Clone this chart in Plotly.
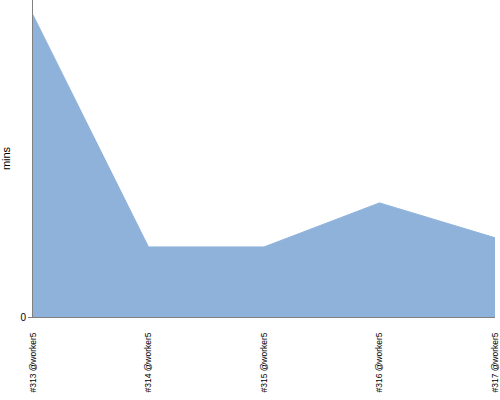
import plotly.graph_objects as go

builds = ["#313 @worker5", "#314 @worker5", "#315 @worker5", "#316 @worker5", "#317 @worker5"]
mins = [9.53, 2.21, 2.21, 3.6, 2.5]

fig = go.Figure()
fig.add_trace(go.Scatter(
    x=builds, y=mins, mode="lines", fill="tozeroy",
    fillcolor="#8fb2db", line=dict(color="#8fb2db", width=1),
    hoverinfo="skip", showlegend=False,
))
fig.update_layout(
    width=500, height=400,
    margin=dict(l=33, r=5, t=0, b=83),
    plot_bgcolor="white", paper_bgcolor="white",
    font=dict(family="Liberation Sans, Arial, sans-serif", color="#000000"),
)
fig.update_xaxes(
    range=[0, 4], showgrid=False, zeroline=False, showline=True, automargin=False,
    linecolor="#808080", linewidth=1, ticks="", ticklabelstandoff=11,
    tickangle=-90, tickfont=dict(size=8.5),
)
fig.update_yaxes(
    range=[0, 10], showgrid=False, zeroline=False, showline=True, automargin=False,
    linecolor="#808080", linewidth=1, tickvals=[0], ticktext=["0"],
    ticks="outside", ticklen=4, tickcolor="#808080", tickfont=dict(size=10),
    title=dict(text="mins", font=dict(size=11), standoff=7),
)
fig.write_html("out.html", config={"displayModeBar": False},
               post_script="document.body.style.margin='0';")
